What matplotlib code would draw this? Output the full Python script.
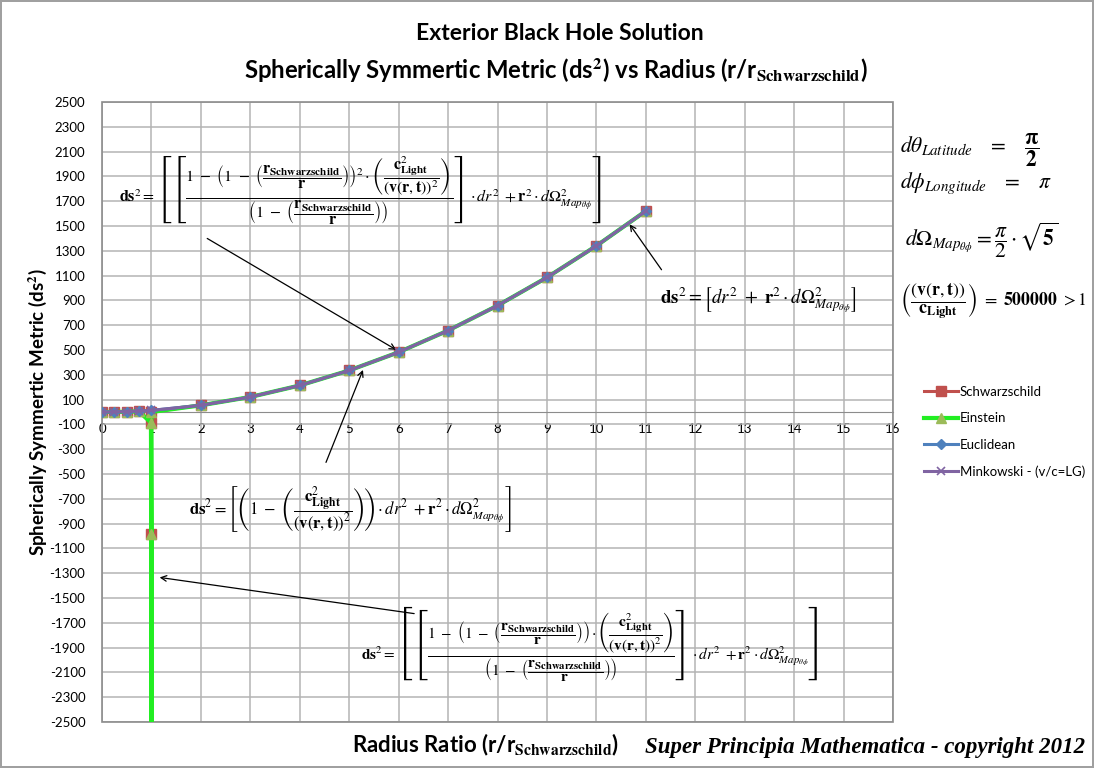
import numpy as np
import matplotlib.pyplot as plt
from matplotlib.patches import Rectangle

plt.rcParams['font.family'] = ['Lato', 'DejaVu Sans']
plt.rcParams['mathtext.fontset'] = 'stix'
plt.rcParams['axes.unicode_minus'] = False

# ---------------------------------------------------------------
# Data
# ---------------------------------------------------------------
r_ratio = [0, 0.25, 0.5, 0.75, 1, 2, 3, 4, 5, 6, 7, 8, 9, 10, 11]
ds2_flat = [0, 1, 3, 8, 13, 54, 121, 214, 335, 482, 657, 858, 1085, 1340, 1621]

# Schwarzschild / Einstein approach r -> r_s from below, then (1, 0) from the #DIV/0 cell
r_horizon = [0, 0.25, 0.5, 0.75, 0.99, 0.999, 0.9999, 1, 2, 3, 4, 5, 6, 7, 8, 9, 10, 11]
ds2_schw = [0, 0.5, 2, 4.5, -86, -986, -9986, 0, 54, 121, 214, 335, 482, 657, 858, 1085, 1340, 1621]
ds2_einst = [0, 0.5, 2, 4.5, -86, -986, -9986, 0, 54, 121, 214, 335, 482, 657, 858, 1085, 1340, 1621]

x_ticks = list(range(0, 17))
y_ticks = list(range(-2500, 2501, 200))

# ---------------------------------------------------------------
# Figure
# ---------------------------------------------------------------
W, H = 1094, 768
fig = plt.figure(figsize=(W / 100, H / 100), dpi=100)
fig.patch.set_edgecolor('#a0a0a0')
fig.patch.set_linewidth(1.5)

ax = fig.add_axes([102 / W, 1 - 722 / H, (893 - 102) / W, (722 - 102) / H])
ax.set_xlim(0, 16)
ax.set_ylim(-2500, 2500)
ax.set_xticks(x_ticks)
ax.set_yticks(y_ticks)
ax.grid(True, color='#b4b4b4', lw=1.1)
ax.set_axisbelow(True)

for s in ('top', 'right', 'left'):
    ax.spines[s].set_visible(False)
ax.spines['bottom'].set_position(('data', 0))
ax.spines['bottom'].set_color('#8c8c8c')
ax.add_patch(Rectangle((0, 0), 1, 1, transform=ax.transAxes, fill=False,
                       ec='#8c8c8c', lw=1.2, zorder=1, clip_on=False))
ax.tick_params(length=0, labelsize=9.5)
ax.tick_params(axis='x', pad=8)
ax.tick_params(axis='y', pad=12)

ax.plot(r_horizon, ds2_schw, color='#C0504D', lw=2.2, marker='s', ms=6.5,
        label='Schwarzschild', zorder=3)
ax.plot(r_horizon, ds2_einst, color='#22EE22', lw=3.0, marker='^', ms=7,
        mfc='#9BBB59', mec='#9BBB59', label='Einstein', zorder=4)
ax.plot(r_ratio, ds2_flat, color='#4F81BD', lw=2.2, marker='D', ms=5,
        label='Euclidean', zorder=5)
ax.plot(r_ratio, ds2_flat, color='#8064A2', lw=2.2, marker='x', ms=6, mew=1.2,
        label='Minkowski - (v/c=LG)', zorder=6)

ax.legend(loc='upper left', bbox_to_anchor=(912 / W, 1 - 374 / H),
          bbox_transform=fig.transFigure, frameon=False, fontsize=9.5,
          handlelength=2.6, handletextpad=0.1, labelspacing=1.1)

# ---------------------------------------------------------------
# Titles and axis labels
# ---------------------------------------------------------------
fig.text(560 / W, 1 - 33 / H, 'Exterior Black Hole Solution', ha='center', va='center',
         fontsize=16.5, fontweight='bold')
fig.text(556 / W, 1 - 70 / H,
         r'Spherically Symmertic Metric (ds$^{\mathbf{2}}$) vs Radius (r/r$_{\mathbf{Schwarzschild}}$)',
         ha='center', va='center', fontsize=17.2, fontweight='bold')
fig.text(38 / W, 1 - 412 / H, r'Spherically Symmertic Metric (ds$^{\mathbf{2}}$)',
         rotation=90, ha='center', va='center', fontsize=13.5, fontweight='bold')
fig.text(486 / W, 1 - 745 / H, r'Radius Ratio (r/r$_{\mathbf{Schwarzschild}}$)',
         ha='center', va='center', fontsize=16, fontweight='bold')
fig.text(1085 / W, 1 - 748 / H, 'Super Principia Mathematica - copyright 2012',
         ha='right', va='center', fontsize=16.5, fontweight='bold', style='italic',
         family='Liberation Serif')

# ---------------------------------------------------------------
# Equations
# ---------------------------------------------------------------
rs = r'\left(\dfrac{\mathbf{r}_{\mathbf{Schwarzschild}}}{\mathbf{r}}\right)'
cv = r'\left(\dfrac{\mathbf{c}_{\mathbf{Light}}^{2}}{(\mathbf{v}(\mathbf{r},\mathbf{t}))^{2}}\right)'
tail = r'\cdot dr^{2}\ +\mathbf{r}^{2}\cdot d\Omega_{Map_{\theta\phi}}^{2}'

eq_top = (r'$\mathbf{ds}^{2}=\left[\left[\dfrac{1\ -\ \left(1\ -\ ' + rs + r'\right)^{2}\cdot' + cv +
          r'}{\left(1\ -\ ' + rs + r'\right)}\right]' + tail + r'\right]$')
eq_mid = r'$\mathbf{ds}^{2}=\left[\left(1\ -\ ' + cv + r'\right)' + tail + r'\right]$'
eq_bot = (r'$\mathbf{ds}^{2}=\left[\left[\dfrac{1\ -\ \left(1\ -\ ' + rs + r'\right)\cdot' + cv +
          r'}{\left(1\ -\ ' + rs + r'\right)}\right]' + tail + r'\right]$')
eq_flat = r'$\mathbf{ds}^{2}=\left[dr^{2}\ +\ \mathbf{r}^{2}\cdot d\Omega_{Map_{\theta\phi}}^{2}\right]$'

fig.text(360 / W, 1 - 190 / H, eq_top, ha='center', va='center', fontsize=11.5)
fig.text(350 / W, 1 - 510 / H, eq_mid, ha='center', va='center', fontsize=12)
fig.text(590 / W, 1 - 643 / H, eq_bot, ha='center', va='center', fontsize=11)
fig.text(758 / W, 1 - 300 / H, eq_flat, ha='center', va='center', fontsize=13.5)

fig.text(900 / W, 1 - 150 / H, r'$d\theta_{Latitude}\quad=\quad\mathbf{\dfrac{\pi}{2}}$',
         ha='left', va='center', fontsize=15.5)
fig.text(900 / W, 1 - 183 / H, r'$d\phi_{Longitude}\quad=\quad\pi$',
         ha='left', va='center', fontsize=15.5)
fig.text(905 / W, 1 - 240 / H, r'$d\Omega_{Map_{\theta\phi}}=\dfrac{\pi}{2}\cdot\sqrt{\mathbf{5}}$',
         ha='left', va='center', fontsize=15.5)
fig.text(900 / W, 1 - 302 / H,
         r'$\left(\dfrac{(\mathbf{v}(\mathbf{r},\mathbf{t}))}{\mathbf{c}_{\mathbf{Light}}}\right)\ =\ \mathbf{500000}\ >1$',
         ha='left', va='center', fontsize=12.8)

# arrows from the equations to the curves
arrow = dict(arrowstyle='->', color='black', lw=0.9)
ax.annotate('', xy=(6, 490), xytext=(2.08, 1411), arrowprops=arrow)
ax.annotate('', xy=(5.3, 360), xytext=(4.51, -427), arrowprops=arrow)
ax.annotate('', xy=(1.11, -1331), xytext=(6.37, -1629), arrowprops=arrow)
ax.annotate('', xy=(10.64, 1532), xytext=(11.35, 1129), arrowprops=arrow)

fig.savefig('out.png', dpi=100)
